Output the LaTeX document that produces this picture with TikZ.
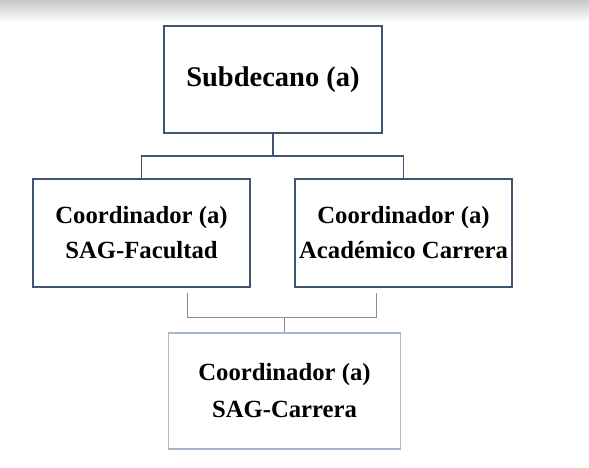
\documentclass[tikz,border=0pt]{standalone}
\usepackage{fontspec}
\setmainfont{Liberation Serif}
\usetikzlibrary{calc}
\definecolor{bordeoscuro}{RGB}{63,85,115}
\definecolor{bordeclaro}{RGB}{167,183,204}
\definecolor{lineagris}{RGB}{140,140,140}
\newcommand{\CajaFuente}{\fontsize{24.7}{35}\selectfont\bfseries}

\begin{document}
\begin{tikzpicture}[x=1pt,y=-1pt,
		caja/.style={draw=bordeoscuro,line width=1.3pt,fill=white,
			align=center,inner sep=0pt,font=\CajaFuente},
		cajaclara/.style={caja,draw=bordeclaro,
			font=\fontsize{24.7}{37}\selectfont\bfseries},
		conector/.style={draw=bordeoscuro,line width=1.3pt},
		conectorgris/.style={draw=lineagris,line width=1pt}]
				\useasboundingbox (0,0) rectangle (589,468);
				\shade[top color=black!22,bottom color=white] (0,0) rectangle (589,22);

				\node[caja,minimum width=218pt,minimum height=107pt,
					font=\fontsize{28.5}{34}\selectfont\bfseries]
					(subdecano) at (273,79.5) {Subdecano (a)};

				\node[caja,minimum width=217pt,minimum height=108pt]
					(coordsag) at (141.5,233) {Coordinador (a)\\SAG-Facultad};
				\node[caja,minimum width=217pt,minimum height=108pt]
					(coordacad) at (403.5,233) {Coordinador (a)\\Académico Carrera};

				\node[cajaclara,minimum width=232pt,minimum height=116pt]
					(sagcarrera) at (284.5,391) {Coordinador (a)\\SAG-Carrera};

				% ramas superiores
				\coordinate (rama) at (273,156);
				\draw[conector] (subdecano.south) -- (rama);
				\draw[conector] (coordsag.north) |- (rama) -| (coordacad.north);

				% union inferior, sin tocar las cajas
				\coordinate (sagpie) at (187,293);
				\coordinate (acadpie) at (376,293);
				\coordinate (union) at (284.5,317);
				\draw[conectorgris] (sagpie) |- (acadpie |- union) -- (acadpie);
				\draw[conectorgris] (union) -- (sagcarrera.north);
			\end{tikzpicture}
\end{document}
